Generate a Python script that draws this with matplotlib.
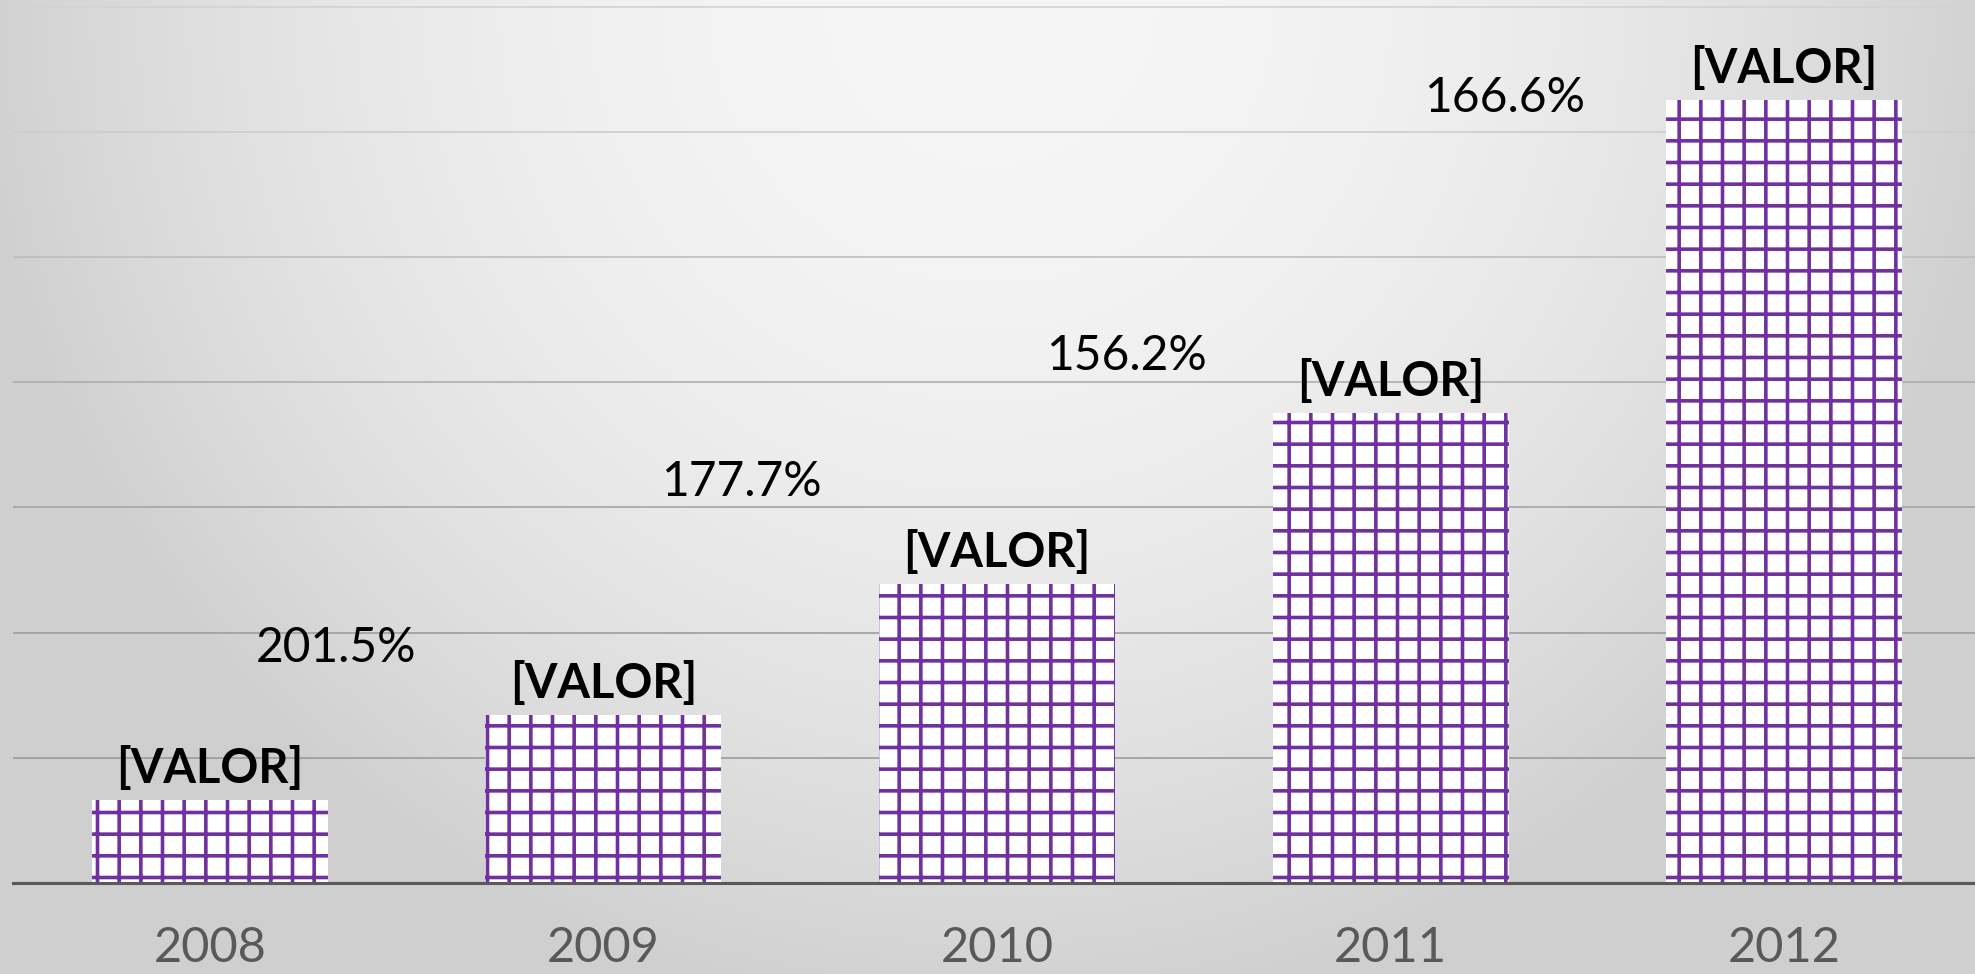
import numpy as np
import matplotlib
matplotlib.use("Agg")
import matplotlib.pyplot as plt

# data (2008 = 100, each bar = previous * growth)
years = ["2008", "2009", "2010", "2011", "2012"]
values = [100, 201.5, 358, 563, 938]
value_labels = ["[VALOR]", "[VALOR]", "[VALOR]", "[VALOR]", "[VALOR]"]
growth_labels = ["201.5%", "177.7%", "156.2%", "166.6%"]
growth_label_y = [282, 481, 631, 941]
growth_label_x = [0.32, 1.35, 2.33, 3.29]

plt.rcParams["font.family"] = ["Lato", "DejaVu Sans"]
plt.rcParams["hatch.linewidth"] = 2.0

DPI = 130
fig = plt.figure(figsize=(1975 / DPI, 974 / DPI), dpi=DPI)

# soft radial grey background, brightest at top centre
bg = fig.add_axes([0, 0, 1, 1], zorder=-10)
h, w = 974, 1975
yy, xx = np.mgrid[0:h, 0:w]
r = np.sqrt((xx - 990) ** 2 + (yy - 0) ** 2) / 960
r = np.clip(r, 0, 1.15)
shade = (0xF6 - 0x22 * r ** 2) / 255
shade = np.clip(shade, 0xCF / 255, 1)
bg.imshow(np.dstack([shade] * 3), aspect="auto", extent=[0, 1, 0, 1])
bg.axis("off")

ax = fig.add_axes([13 / 1975, 91 / 974, 1968 / 1975, 883 / 974])
ax.set_facecolor("none")

x = np.arange(len(years))
bars = ax.bar(x, values, width=0.6, color="white", edgecolor="#7030A0",
              linewidth=0, hatch="+", zorder=3)

ax.bar_label(bars, labels=value_labels, padding=5, fontsize=26,
             fontweight="bold", color="black", zorder=4)

for lx, ly, lab in zip(growth_label_x, growth_label_y, growth_labels):
    ax.text(lx, ly, lab, ha="center", va="center", fontsize=26.5,
            color="black", zorder=4)

ax.set_xlim(-0.5, 4.5)
ax.set_ylim(0, 1058)
ax.set_yticks(np.arange(0, 1051, 150))
ax.set_xticks(x)
ax.set_xticklabels(years, fontsize=27, color="#595959")
ax.tick_params(axis="x", length=0, pad=24)
ax.tick_params(axis="y", length=0, labelleft=False)

ax.grid(axis="y", linewidth=0.9, zorder=0)
grid_colors = ["#595959", "#9a9a9a", "#9c9c9c", "#a3a3a3", "#adadad",
               "#bdbdbd", "#cccccc", "#d2d2d2"]
for gl, c in zip(ax.get_ygridlines(), grid_colors):
    gl.set_color(c)
ax.set_axisbelow(True)

for s in ["top", "left", "right"]:
    ax.spines[s].set_visible(False)
ax.spines["bottom"].set_color("#595959")
ax.spines["bottom"].set_linewidth(1.7)
ax.spines["bottom"].set_zorder(5)

fig.savefig("out.png", dpi=DPI)
